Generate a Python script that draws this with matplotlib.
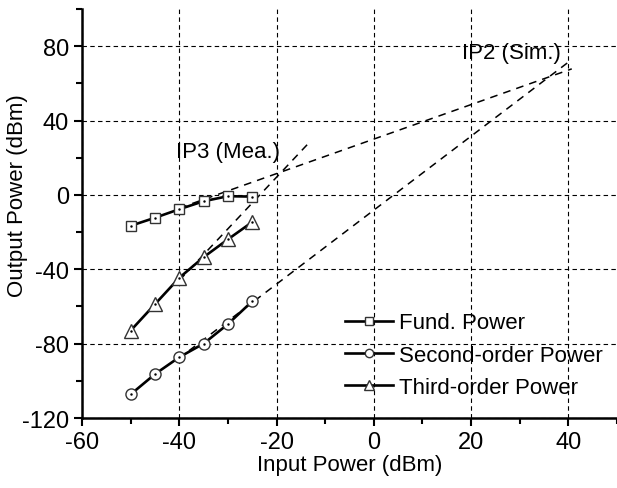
import matplotlib
matplotlib.use("Agg")
import matplotlib.pyplot as plt
from matplotlib import font_manager
from matplotlib.ticker import MultipleLocator

# Input power sweep (dBm)
pin = [-50, -45, -40, -35, -30, -25]

# Measured output powers (dBm)
fund = [-16.6, -12.3, -7.7, -3.4, -0.7, -0.9]
second = [-107.3, -96.4, -87.3, -80.0, -69.5, -57.2]
third = [-73.0, -58.8, -44.6, -33.5, -23.9, -14.6]

# Extrapolation lines (endpoints, dBm)
fund_ext_x = [-40, 40.7]
fund_ext_y = [-7.1, 67.8]
second_ext_x = [-38, 40.7]
second_ext_y = [-83.8, 72.8]
third_ext_x = [-40, -13.6]
third_ext_y = [-46.0, 27.3]

names = {f.name for f in font_manager.fontManager.ttflist}
family = "Liberation Sans Narrow" if "Liberation Sans Narrow" in names else "Liberation Sans"
plt.rcParams["font.family"] = [family, "DejaVu Sans"]
plt.rcParams["axes.unicode_minus"] = False

fig = plt.figure(figsize=(6.17, 4.89), dpi=100)
ax = fig.add_axes([82 / 617, 1 - 419 / 489, 1 - 82 / 617, (419 - 10) / 489])

ax.grid(True, which="major", color="black", linestyle=(0, (4, 3)), linewidth=0.8)
ax.set_axisbelow(True)

dash = (0, (5, 4))
ax.plot(fund_ext_x, fund_ext_y, color="black", linestyle=dash, linewidth=1.1, zorder=2)
ax.plot(second_ext_x, second_ext_y, color="black", linestyle=dash, linewidth=1.1, zorder=2)
ax.plot(third_ext_x, third_ext_y, color="black", linestyle=dash, linewidth=1.1, zorder=2)

style = dict(color="black", linewidth=1.9, markerfacecolor="white",
             markeredgecolor="#333333", markeredgewidth=1.0, zorder=3)
ax.plot(pin, fund, marker="s", markersize=7.5, label="Fund. Power", **style)
ax.plot(pin, second, marker="o", markersize=8, label="Second-order Power", **style)
ax.plot(pin, third, marker="^", markersize=10, label="Third-order Power", **style)
for ys in (fund, second, third):
    ax.plot(pin, ys, linestyle="none", marker=".", markersize=1.5, color="black", zorder=4)

ax.text(28.2, 76.5, "IP2 (Sim.)", fontsize=16, ha="center", va="center")
ax.text(-30, 23.5, "IP3 (Mea.)", fontsize=16, ha="center", va="center")

ax.set_xlim(-60, 50)
ax.set_ylim(-120, 100)
ax.xaxis.set_major_locator(MultipleLocator(20))
ax.xaxis.set_minor_locator(MultipleLocator(10))
ax.yaxis.set_major_locator(MultipleLocator(40))
ax.yaxis.set_minor_locator(MultipleLocator(20))
ax.tick_params(which="major", direction="out", length=6, width=1.5, labelsize=17)
ax.tick_params(which="minor", direction="out", length=4, width=1.5)

for side in ("top", "right"):
    ax.spines[side].set_visible(False)
for side in ("left", "bottom"):
    ax.spines[side].set_linewidth(1.8)

ax.set_xlabel("Input Power (dBm)", fontsize=16)
ax.set_ylabel("Output Power (dBm)", fontsize=16)
ax.yaxis.set_label_coords(-0.100, 0.545)
ax.xaxis.set_label_coords(0.5, -0.088)

ax.legend(loc="upper left", bbox_to_anchor=(0.4916, 0.258), frameon=False,
          fontsize=16, handlelength=2.15, handletextpad=0.3, labelspacing=0.5,
          borderpad=0, borderaxespad=0, markerscale=0.75)

fig.savefig("out.png", dpi=100)
